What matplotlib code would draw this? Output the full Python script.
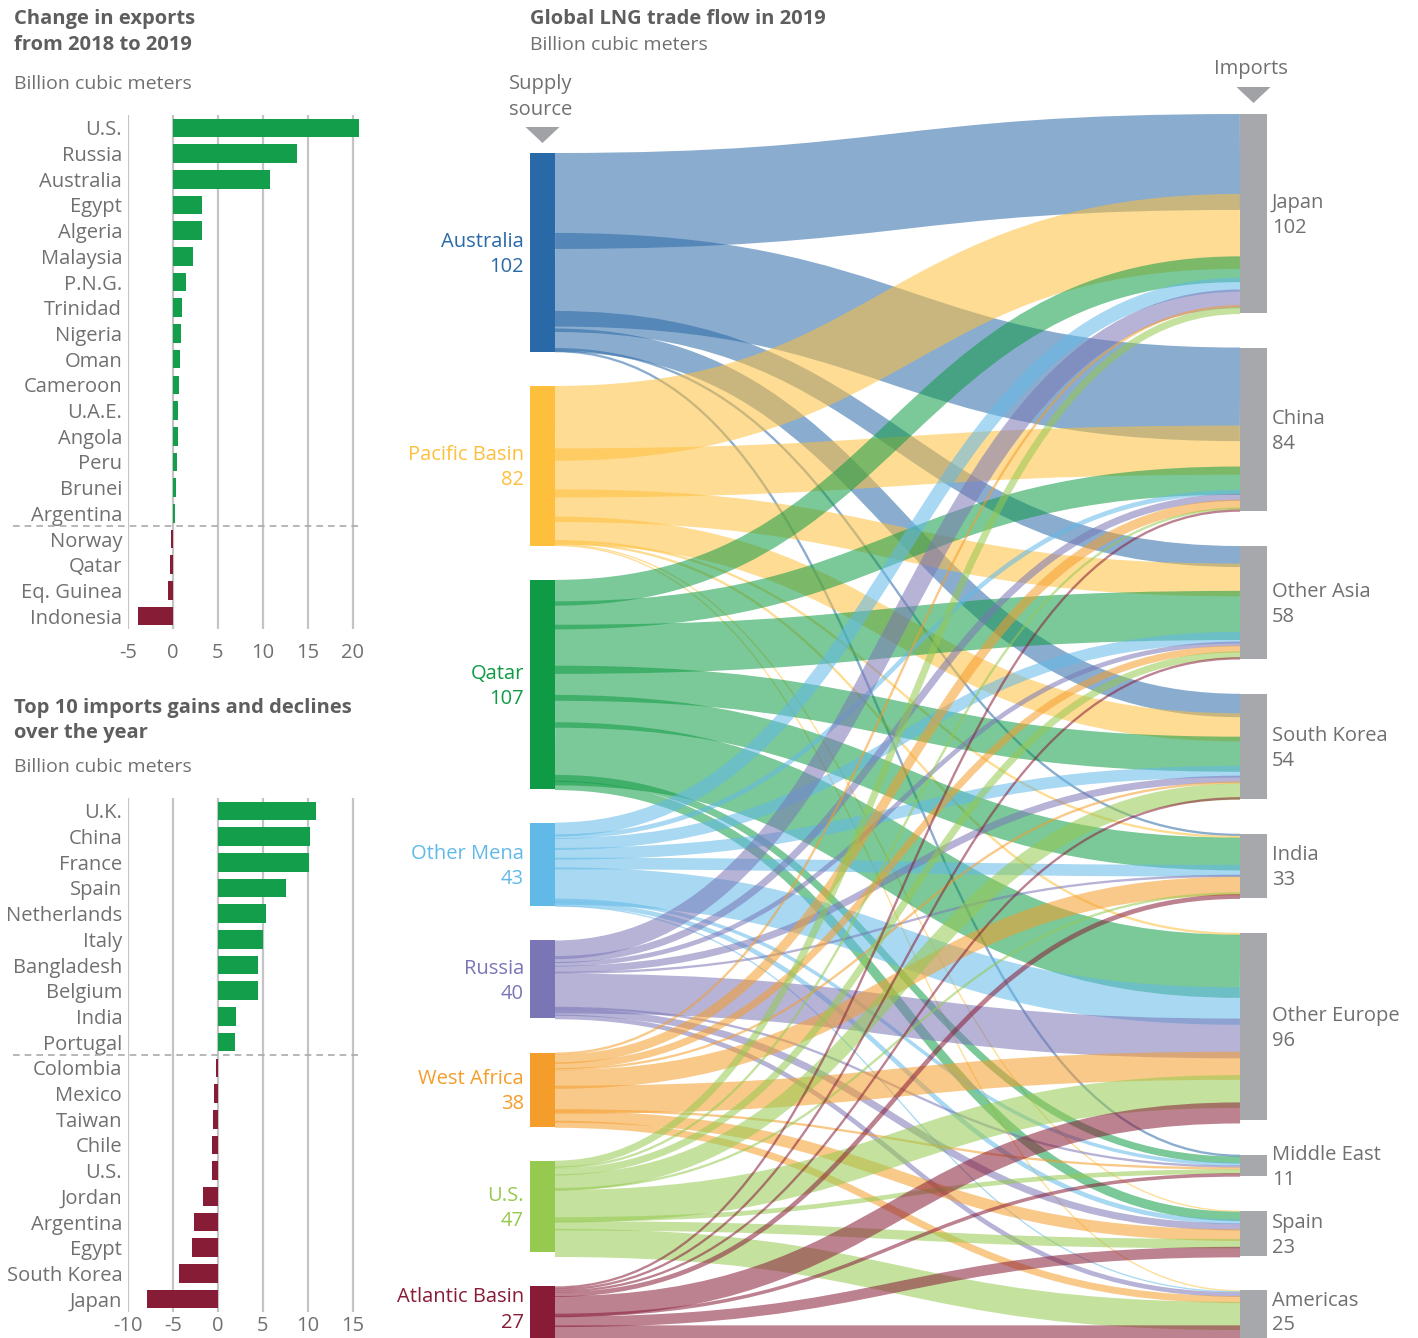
import numpy as np
import matplotlib
matplotlib.use("Agg")
import matplotlib.pyplot as plt
from matplotlib.path import Path
from matplotlib.patches import PathPatch, Polygon, Rectangle

plt.rcParams['font.family'] = ['Open Sans', 'DejaVu Sans']

# ---------------- data ----------------
exp_countries = ["U.S.", "Russia", "Australia", "Egypt", "Algeria", "Malaysia", "P.N.G.",
                 "Trinidad", "Nigeria", "Oman", "Cameroon", "U.A.E.", "Angola", "Peru",
                 "Brunei", "Argentina", "Norway", "Qatar", "Eq. Guinea", "Indonesia"]
exp_change = [20.7, 13.8, 10.8, 3.25, 3.25, 2.25, 1.45, 1.0, 0.9, 0.8, 0.7, 0.6, 0.6, 0.5,
              0.35, 0.25, -0.2, -0.3, -0.55, -3.85]
exp_ticks = [-5, 0, 5, 10, 15, 20]

imp_countries = ["U.K.", "China", "France", "Spain", "Netherlands", "Italy", "Bangladesh",
                 "Belgium", "India", "Portugal", "Colombia", "Mexico", "Taiwan", "Chile",
                 "U.S.", "Jordan", "Argentina", "Egypt", "South Korea", "Japan"]
imp_change = [10.9, 10.25, 10.15, 7.6, 5.35, 5.0, 4.45, 4.45, 2.0, 1.9, -0.15, -0.45, -0.55,
              -0.65, -0.65, -1.65, -2.65, -2.85, -4.3, -7.9]
imp_ticks = [-10, -5, 0, 5, 10, 15]

src_names = ["Australia", "Pacific Basin", "Qatar", "Other Mena", "Russia", "West Africa",
             "U.S.", "Atlantic Basin"]
src_totals = [102, 82, 107, 43, 40, 38, 47, 27]
dst_names = ["Japan", "China", "Other Asia", "South Korea", "India", "Other Europe",
             "Middle East", "Spain", "Americas"]
dst_totals = [102, 84, 58, 54, 33, 96, 11, 23, 25]

# flows: rows = supply source, columns = importer (same order as dst_names)
flow_australia = [41, 40, 9, 10, 1, 0, 1, 0, 0]
flow_pacific = [32, 21, 14, 12, 1, 1, 0, 0.5, 0.5]
flow_qatar = [11, 12, 21, 15, 14, 27, 3, 4, 0]
flow_mena = [6, 2, 5, 5, 5, 16, 1.5, 2, 0.5]
flow_russia = [8, 3, 2, 3, 1, 17, 1, 3, 2]
flow_wafrica = [1, 4, 3, 1, 8, 12, 1, 5, 3]
flow_us = [3, 1, 3, 7, 1, 14, 2, 4, 12]
flow_atlantic = [0, 1, 1, 1, 2, 9, 1.5, 4.5, 7]

src_colors = ["#2A69A7", "#FEC03C", "#0F9B45", "#61B9E8", "#7A76B6", "#F59D2B", "#95C94F", "#881B36"]
dst_color = "#A6A8AB"
GREEN = "#129E4A"
RED = "#861C35"
TXT = "#707070"
TITLE = "#5E5E5E"
GRID = "#C4C4C4"

W, H = 1418, 1338
fig = plt.figure(figsize=(W / 100, H / 100), dpi=100)


def rect(x0, y0, x1, y1):
    return [x0 / W, 1 - y1 / H, (x1 - x0) / W, (y1 - y0) / H]


# ---------------- background axes (pixel coordinates) ----------------
ax = fig.add_axes([0, 0, 1, 1])
ax.set_xlim(0, W)
ax.set_ylim(H, 0)
ax.axis('off')

# ---------------- Sankey ----------------
flows = np.array([flow_australia, flow_pacific, flow_qatar, flow_mena, flow_russia,
                  flow_wafrica, flow_us, flow_atlantic], dtype=float)
src_vals = flows.sum(axis=1)
dst_vals = flows.sum(axis=0)
k = 1.95
sx0, sx1 = 530, 555
dx0, dx1 = 1240, 1267
s_top, d_top, bot = 153, 114, 1339
gap_s = (bot - s_top - src_vals.sum() * k) / (len(src_vals) - 1)
gap_d = (bot - d_top - dst_vals.sum() * k) / (len(dst_vals) - 1)
src_y = s_top + np.concatenate([[0], np.cumsum(src_vals[:-1] * k + gap_s)])
dst_y = d_top + np.concatenate([[0], np.cumsum(dst_vals[:-1] * k + gap_d)])

s_off = src_y.copy()
d_off = dst_y.copy()
xm = (sx1 + dx0) / 2
for i in range(flows.shape[0]):
    for j in range(flows.shape[1]):
        v = flows[i, j]
        if v <= 0:
            continue
        w = v * k * 1.2
        ys = s_off[i] + w / 2
        yd = d_off[j] + w / 2
        p = Path([(sx1, ys), (xm, ys), (xm, yd), (dx0, yd)],
                 [Path.MOVETO, Path.CURVE4, Path.CURVE4, Path.CURVE4])
        ax.add_patch(PathPatch(p, facecolor='none', edgecolor=src_colors[i],
                               lw=max(w, 1.3) * 0.72, alpha=0.55, capstyle='butt',
                               joinstyle='round', zorder=2))
        s_off[i] += v * k
        d_off[j] += v * k

for i, name in enumerate(src_names):
    h = src_vals[i] * k
    ax.add_patch(Rectangle((sx0, src_y[i]), sx1 - sx0, h, color=src_colors[i], zorder=3, lw=0))
    c = min(src_y[i] + h / 2 + 2, H - 28)
    ax.text(sx0 - 6, c - 12.5, name, ha='right', va='center', fontsize=14.5,
            color=src_colors[i], zorder=4)
    ax.text(sx0 - 6, c + 12.5, str(src_totals[i]), ha='right', va='center', fontsize=14.5,
            color=src_colors[i], zorder=4)

for j, name in enumerate(dst_names):
    h = dst_vals[j] * k
    ax.add_patch(Rectangle((dx0, dst_y[j]), dx1 - dx0, h, color=dst_color, zorder=3, lw=0))
    c = min(dst_y[j] + h / 2 + 2, H - 25)
    ax.text(dx1 + 5, c - 12.5, name, ha='left', va='center', fontsize=14.5, color=TXT, zorder=4)
    ax.text(dx1 + 5, c + 12.5, str(dst_totals[j]), ha='left', va='center', fontsize=14.5,
            color=TXT, zorder=4)

# headers & markers
scx = (sx0 + sx1) / 2
dcx = (dx0 + dx1) / 2
ax.add_patch(Polygon([(scx - 17, 127), (scx + 17, 127), (scx, 143)], closed=True,
                     color="#A0A2A5", lw=0))
ax.add_patch(Polygon([(dcx - 17, 87), (dcx + 17, 87), (dcx, 103)], closed=True,
                     color="#A0A2A5", lw=0))
ax.text(509, 84, "Supply", ha='left', va='center', fontsize=14.5, color=TXT)
ax.text(509, 110, "source", ha='left', va='center', fontsize=14.5, color=TXT)
ax.text(dcx - 3, 69, "Imports", ha='center', va='center', fontsize=14.5, color=TXT)

ax.text(530, 19, "Global LNG trade flow in 2019", ha='left', va='center', fontsize=14.5,
        fontweight='bold', color=TITLE)
ax.text(530, 45, "Billion cubic meters", ha='left', va='center', fontsize=14, color=TXT)

# left titles
ax.text(14, 19, "Change in exports", ha='left', va='center', fontsize=14.5,
        fontweight='bold', color=TITLE)
ax.text(14, 45, "from 2018 to 2019", ha='left', va='center', fontsize=14.5,
        fontweight='bold', color=TITLE)
ax.text(14, 84, "Billion cubic meters", ha='left', va='center', fontsize=14, color=TXT)
ax.text(14, 708, "Top 10 imports gains and declines", ha='left', va='center', fontsize=14.5,
        fontweight='bold', color=TITLE)
ax.text(14, 733, "over the year", ha='left', va='center', fontsize=14.5,
        fontweight='bold', color=TITLE)
ax.text(14, 767, "Billion cubic meters", ha='left', va='center', fontsize=14, color=TXT)


# ---------------- bar charts ----------------
def bar_chart(rect_px, names, vals, ticks, xmax, xpad):
    a = fig.add_axes(rect(*rect_px))
    n = len(names)
    y = np.arange(n)
    cols = [GREEN if v > 0 else RED for v in vals]
    a.barh(y, vals, height=0.72, color=cols, zorder=3)
    a.set_ylim(n - 0.5, -0.5)
    a.set_xlim(ticks[0], xmax)
    a.set_xticks(ticks)
    a.set_xticklabels([str(t) for t in ticks])
    a.set_yticks(y)
    a.set_yticklabels(names)
    a.tick_params(axis='both', length=0, labelsize=14.5, labelcolor=TXT)
    a.tick_params(axis='y', pad=4)
    a.tick_params(axis='x', pad=xpad)
    for s in a.spines.values():
        s.set_visible(False)
    for t in ticks:
        a.axvline(t, color=GRID, lw=1.6, zorder=1)
    a.patch.set_alpha(0)
    npos = sum(1 for v in vals if v > 0)
    a.plot([-0.496, 1.0], [npos - 0.5, npos - 0.5], transform=a.get_yaxis_transform(),
           clip_on=False, color="#AAAAAA", lw=1.2, ls=(0, (4, 3)), zorder=2)
    return a


bar_chart((127.7, 115, 359, 629), exp_countries, exp_change, exp_ticks, 20.7, 10)
bar_chart((127.7, 798, 358.1, 1312), imp_countries, imp_change, imp_ticks, 15.6, 3)

fig.savefig("out.png", dpi=100)
